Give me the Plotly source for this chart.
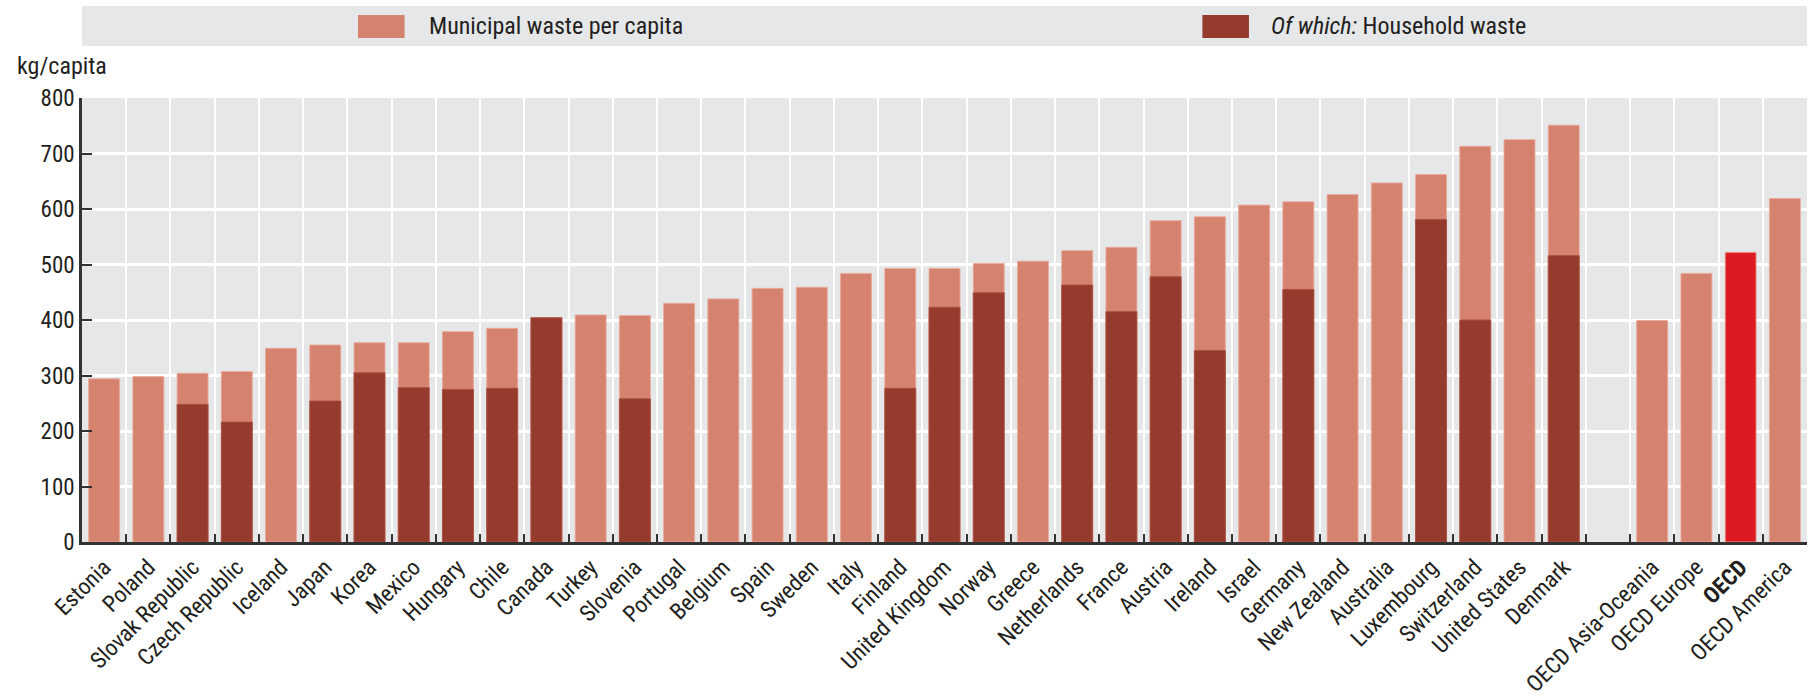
import plotly.graph_objects as go

countries = ["Estonia", "Poland", "Slovak Republic", "Czech Republic", "Iceland", "Japan",
             "Korea", "Mexico", "Hungary", "Chile", "Canada", "Turkey", "Slovenia",
             "Portugal", "Belgium", "Spain", "Sweden", "Italy", "Finland", "United Kingdom",
             "Norway", "Greece", "Netherlands", "France", "Austria", "Ireland", "Israel",
             "Germany", "New Zealand", "Australia", "Luxembourg", "Switzerland",
             "United States", "Denmark", " ", "OECD Asia-Oceania", "OECD Europe", "OECD",
             "OECD America"]

municipal = [294, 298, 304, 307, 349, 355, 359, 359, 379, 385, 404, 409, 408,
             430, 438, 457, 459, 484, 493, 493, 502, 506, 525, 531, 579, 586, 607,
             613, 626, 647, 662, 713, 725, 751, None, 399, 484, 522, 619]

household = [None, None, 248, 216, None, 254, 305, 278, 275, 277, 404, None, 258,
             None, None, None, None, None, 277, 423, 449, None, 463, 415, 478, 345, None,
             455, None, None, 581, 400, None, 516, None, None, None, None, None]

tick_labels = [("<b>%s</b>" % c) if c == "OECD" else c for c in countries]

LIGHT = "#d5826f"
DARK = "#953b2e"
RED = "#dc1a24"
BG = "#e6e7e8"
FONT = "Liberation Sans Narrow, Roboto Condensed, Arial Narrow, sans-serif"
TXT = "#231f20"

light_colors = [RED if c == "OECD" else LIGHT for c in countries]

fig = go.Figure()
fig.add_trace(go.Bar(x=countries, y=municipal, name="Municipal waste per capita",
                     marker=dict(color=light_colors, line=dict(color="rgba(235,170,155,0.9)", width=1))))
fig.add_trace(go.Bar(x=countries, y=household, name="Of which: Household waste",
                     marker=dict(color=DARK, line=dict(color="rgba(170,80,65,0.9)", width=1))))

fig.update_layout(
    width=1818, height=698,
    margin=dict(l=82, r=11, t=98, b=156, autoexpand=False),
    barmode="overlay", bargap=0.3,
    plot_bgcolor=BG, paper_bgcolor="white",
    showlegend=False,
    font=dict(family=FONT, size=24, color=TXT),
)
fig.update_xaxes(
    type="category", categoryorder="array", categoryarray=countries,
    tickmode="array", tickvals=countries, ticktext=tick_labels,
    tickson="boundaries", showgrid=True, gridcolor="white", gridwidth=2,
    ticks="inside", ticklen=8, tickcolor="#333", tickwidth=1.5,
    showline=True, linecolor="#333", linewidth=2.5, automargin=False,
    tickangle=-45, tickfont=dict(size=23, family=FONT, color=TXT),
)
fig.update_yaxes(
    range=[0, 800], dtick=100, showgrid=True, gridcolor="white", gridwidth=2.5,
    ticks="inside", ticklen=10, tickcolor="#333", tickwidth=1.5,
    showline=True, linecolor="#333", linewidth=2.5, zeroline=False, automargin=False,
    tickfont=dict(size=23, family=FONT, color=TXT),
)

# legend band (paper coordinates relative to plot area)
fig.add_shape(type="rect", xref="paper", yref="paper", x0=0, x1=1, y0=1.117, y1=1.207,
              fillcolor=BG, line=dict(width=0), layer="below")
fig.add_shape(type="rect", xref="paper", yref="paper", x0=0.160, x1=0.187, y0=1.135, y1=1.187,
              fillcolor=LIGHT, line=dict(width=0))
fig.add_shape(type="rect", xref="paper", yref="paper", x0=0.6495, x1=0.6765, y0=1.135, y1=1.187,
              fillcolor=DARK, line=dict(width=0))
fig.add_annotation(xref="paper", yref="paper", x=0.200, y=1.162, xanchor="left", yanchor="middle",
                   text="Municipal waste per capita", showarrow=False,
                   font=dict(size=24, family=FONT, color=TXT))
fig.add_annotation(xref="paper", yref="paper", x=0.688, y=1.162, xanchor="left", yanchor="middle",
                   text="<i>Of which:</i> Household waste", showarrow=False,
                   font=dict(size=24, family=FONT, color=TXT))
fig.add_annotation(xref="paper", yref="paper", x=-0.039, y=1.072, xanchor="left", yanchor="middle",
                   text="kg/capita", showarrow=False,
                   font=dict(size=24, family=FONT, color=TXT))

fig.write_html("out.html", config={"displayModeBar": False},
               post_script="document.body.style.margin='0';")
